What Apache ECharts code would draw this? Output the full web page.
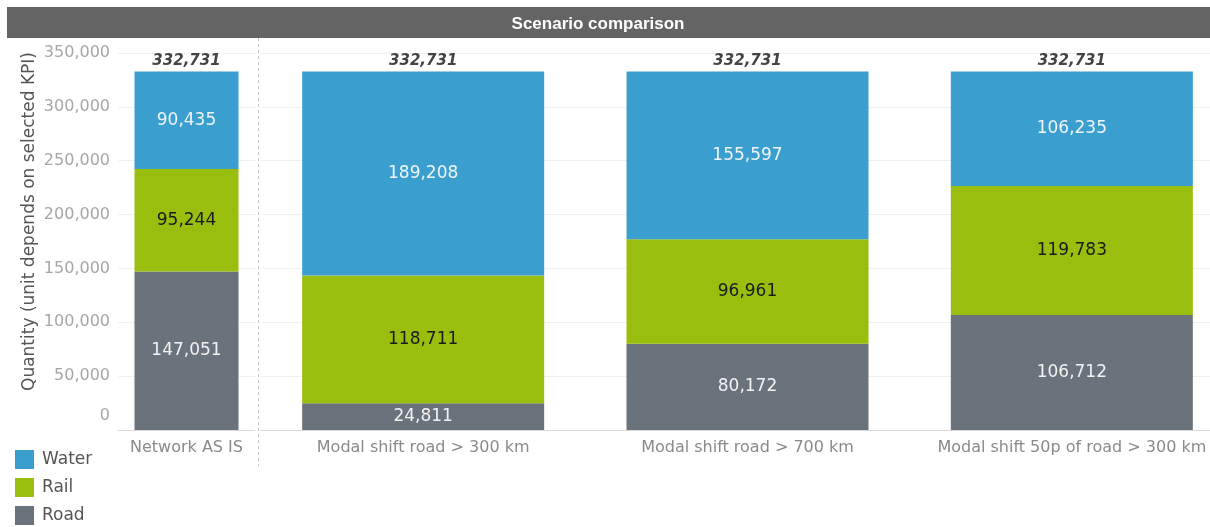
<!DOCTYPE html>
<html>
<head>
<meta charset="utf-8">
<script src="https://cdn.jsdelivr.net/npm/echarts@6/dist/echarts.min.js"></script>
<style>
  html, body { margin: 0; padding: 0; background: #fff; }
  #chart { width: 1210px; height: 527px; }
</style>
</head>
<body>
<div id="chart"></div>
<script>
// Scenario names: the first is the baseline, drawn in its own panel
const scenarios = ['Network AS IS', 'Modal shift road > 300 km', 'Modal shift road > 700 km', 'Modal shift 50p of road > 300 km'];
// Quantities per transport mode, one entry per scenario
const road  = [147051, 24811, 80172, 106712];
const rail  = [95244, 118711, 96961, 119783];
const water = [90435, 189208, 155597, 106235];
const totals = [332731, 332731, 332731, 332731];
const yTicks = { min: 0, max: 350000, interval: 50000 };

const COLORS = { Water: '#3a9fcf', Rail: '#99be0e', Road: '#6a737b' };
const FONT = 'DejaVu Sans';
const fmt = v => Number(v).toLocaleString('en-US');

const chart = echarts.init(document.getElementById('chart'));

function modeSeries(name, values, grid, labelColor) {
  return {
    name: name,
    type: 'bar',
    stack: 'modes' + grid,
    xAxisIndex: grid,
    yAxisIndex: grid,
    data: values,
    barWidth: grid === 0 ? 104 : 242,
    itemStyle: { color: COLORS[name] },
    label: {
      show: true,
      position: 'inside',
      formatter: p => fmt(p.value),
      color: labelColor,
      fontFamily: FONT,
      fontSize: 17
    },
    emphasis: { disabled: true },
    animation: false
  };
}

function totalSeries(values, grid) {
  return {
    name: 'Total',
    type: 'bar',
    xAxisIndex: grid,
    yAxisIndex: grid,
    data: values,
    barWidth: grid === 0 ? 104 : 242,
    barGap: '-100%',
    z: 1,
    itemStyle: { color: 'rgba(0,0,0,0)' },
    label: {
      show: true,
      position: 'top',
      distance: 3,
      formatter: p => fmt(p.value),
      color: '#444',
      fontFamily: FONT,
      fontWeight: 'bold',
      fontStyle: 'italic',
      fontSize: 15
    },
    emphasis: { disabled: true },
    animation: false
  };
}

const panels = [
  { cats: scenarios.slice(0, 1), from: 0, to: 1 },
  { cats: scenarios.slice(1), from: 1, to: 4 }
];

const series = [];
panels.forEach((pn, g) => {
  series.push(totalSeries(totals.slice(pn.from, pn.to), g));
  series.push(modeSeries('Road', road.slice(pn.from, pn.to), g, '#f2f2f2'));
  series.push(modeSeries('Rail', rail.slice(pn.from, pn.to), g, '#1a1a1a'));
  series.push(modeSeries('Water', water.slice(pn.from, pn.to), g, '#eef4f8'));
});

const splitLine = { show: true, lineStyle: { color: '#f0f0f0', width: 1 } };

const option = {
  backgroundColor: '#fff',
  animation: false,
  title: {
    text: 'Scenario comparison',
    left: 593,
    top: 11,
    textAlign: 'center',
    textStyle: { color: '#fff', fontFamily: 'Liberation Sans', fontWeight: 'bold', fontSize: 17 }
  },
  graphic: [
    { type: 'rect', z: -1, shape: { x: 7, y: 7, width: 1203, height: 31 }, style: { fill: '#646464' } },
    { type: 'line', shape: { x1: 258.5, y1: 38, x2: 258.5, y2: 466 },
      style: { stroke: '#c8c8c8', lineWidth: 1, lineDash: [3, 3] } }
  ],
  legend: {
    data: ['Water', 'Rail', 'Road'],
    orient: 'vertical',
    left: 15,
    top: 450,
    height: 80,
    padding: 0,
    itemWidth: 19,
    itemHeight: 19,
    itemGap: 9,
    icon: 'rect',
    selectedMode: false,
    textStyle: { color: '#555', fontFamily: FONT, fontSize: 17, padding: [0, 0, 0, 3] }
  },
  grid: [
    { left: 118, top: 53, width: 137, height: 377, outerBoundsMode: 'none' },
    { left: 261, top: 53, width: 973, height: 377, outerBoundsMode: 'none' }
  ],
  xAxis: panels.map((pn, g) => ({
    type: 'category',
    gridIndex: g,
    data: pn.cats,
    axisLine: { show: true, lineStyle: { color: '#d9d9d9' } },
    axisTick: { show: false },
    axisLabel: { color: '#8a8a8a', fontFamily: FONT, fontSize: 16, margin: 10, interval: 0 }
  })),
  yAxis: panels.map((pn, g) => ({
    type: 'value',
    gridIndex: g,
    min: yTicks.min,
    max: yTicks.max,
    interval: yTicks.interval,
    splitLine: splitLine,
    axisLine: { show: false },
    axisTick: { show: false },
    name: g === 0 ? 'Quantity (unit depends on selected KPI)' : '',
    nameLocation: 'middle',
    nameGap: 80,
    nameTextStyle: { color: '#555', fontFamily: FONT, fontSize: 17, padding: [0, 0, 0, 40] },
    axisLabel: g === 0 ? {
      show: true,
      color: '#a6a6a6',
      fontFamily: FONT,
      fontSize: 16,
      margin: 8,
      formatter: v => v === 0 ? '{z|0}' : fmt(v),
      rich: { z: { color: '#a6a6a6', fontFamily: FONT, fontSize: 16, padding: [0, 0, 28, 0] } }
    } : { show: false }
  })),
  series: series
};

chart.setOption(option);
</script>
</body>
</html>
